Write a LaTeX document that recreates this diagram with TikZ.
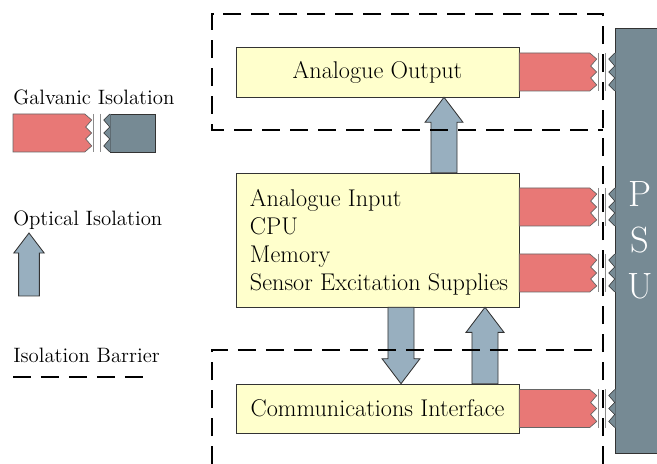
\documentclass[tikz,border=0pt]{standalone}
\usetikzlibrary{calc}
\definecolor{unitfill}{RGB}{255,255,204}
\definecolor{galvred}{RGB}{232,120,118}
\definecolor{optblue}{RGB}{152,175,191}
\definecolor{psugray}{RGB}{118,138,148}
\tikzset{
	unit/.style={draw=black!80, fill=unitfill, minimum width=7.075cm, inner sep=0pt, font=\fontsize{17.2}{20}\selectfont},
	galvanic/.style={draw=black!60, fill=galvred, line width=0.5pt},
	optical/.style={draw=black!80, fill=optblue, line width=0.6pt},
	psublock/.style={draw=black!80, fill=psugray, inner sep=0pt},
	isoline/.style={draw=black!45, line width=0.7pt},
	barrier/.style={line width=1.4pt, dash pattern=on 12.8pt off 7.1pt},
	legend/.style={anchor=base west, inner sep=0pt, font=\fontsize{14.8}{17}\selectfont}
}
\newcommand{\galv}[2]{%
	\coordinate (gp) at (#1 -| #2.west);
	\draw[galvanic] ($(#1)+(0,-19)$) -- ($(gp)+(-25,-19)$) -- ++(7,6) -- ++(-6,7) -- ++(6,6) -- ++(-6,6) -- ++(6,7) -- ++(-7,6) -- ($(#1)+(0,19)$) -- cycle;
	\draw[isoline] ($(gp)+(-16,-19)$) -- ++(0,38) ($(gp)+(-9,-19)$) -- ++(0,38);
	\fill[psugray] ($(gp)+(1,-19)$) -- ($(gp)+(0,-19)$) -- ++(-6,6) -- ++(6,7) -- ++(-6,6) -- ++(6,6) -- ++(-6,7) -- ++(6,6) -- ++(1,0) -- cycle;
	\draw[black!80] ($(gp)+(0,-19)$) -- ++(-6,6) -- ++(6,7) -- ++(-6,6) -- ++(6,6) -- ++(-6,7) -- ++(6,6);
}
\newcommand{\optarrow}[3]{%
	\draw[optical] let \p1=(#1), \p2=(#2), \n1={sign(\y2-\y1)*17.8pt*#3}, \n2={9.25pt*#3}, \n3={13.5pt*#3} in
		({\x1-\n2},\y1) -- ({\x1-\n2},{\y2-\n1}) -- ({\x1-\n3},{\y2-\n1}) -- (\x1,\y2)
		-- ({\x1+\n3},{\y2-\n1}) -- ({\x1+\n2},{\y2-\n1}) -- ({\x1+\n2},\y1) -- cycle;
}
\begin{document}
\begin{tikzpicture}[x=0.025cm, y=-0.025cm]
		\useasboundingbox (0,0) rectangle (657,464);
		\node [unit, minimum height=1.25cm] (ao) at (377.5,72) {Analogue Output};
		\node [unit, minimum height=3.35cm] (main) at (377.5,240) {};
		\node [anchor=west, align=left, inner sep=0pt, font=\fontsize{17.2}{20}\selectfont] (maintext) at ($(main.west)+(14,2.5)$) {Analogue Input\\CPU\\Memory\\Sensor Excitation Supplies};
		\node [unit, minimum height=1.225cm] (comm) at (377.5,408.5) {Communications Interface};
		\node [psublock, minimum width=1.25cm, minimum height=10.625cm, text=white, align=center, font=\fontsize{26}{32.7}\selectfont] (psu) at (640,240.5) {P\\S\\U};
		\coordinate (r2) at ($(main.east)+(0,-33)$);
		\coordinate (r3) at ($(main.east)+(0,33)$);
		\galv{ao.east}{psu}
		\galv{r2}{psu}
		\galv{r3}{psu}
		\galv{comm.east}{psu}
		\coordinate (o1) at ($(main.north)+(66.5,0)$);
		\coordinate (o2) at ($(main.south)+(23.5,0)$);
		\coordinate (o3) at ($(comm.north)+(107.5,0)$);
		\optarrow{o1}{ao.south}{1}
		\optarrow{o2}{comm.north}{1}
		\optarrow{o3}{main.south}{1}
		\node [legend] (lggalv) at (13,105) {Galvanic Isolation};
		\node [psublock, minimum width=1.125cm, minimum height=0.95cm] (lgpsu) at (132.5,133) {};
		\coordinate (lgred) at (13,133);
		\galv{lgred}{lgpsu}
		\node [legend] (lgopt) at (13,226) {Optical Isolation};
		\coordinate (lgfoot) at (29,296);
		\coordinate (lgtip) at (29,233);
		\optarrow{lgfoot}{lgtip}{0.8}
		\node [legend] (lgbar) at (13,363) {Isolation Barrier};
		\draw [barrier] (603,464) -- (603,14) -| (212,130) -- (603,130);
		\draw [barrier] (212,464) |- (603,350);
		\draw [barrier] (13,377) -- (146,377);
	\end{tikzpicture}
\end{document}
